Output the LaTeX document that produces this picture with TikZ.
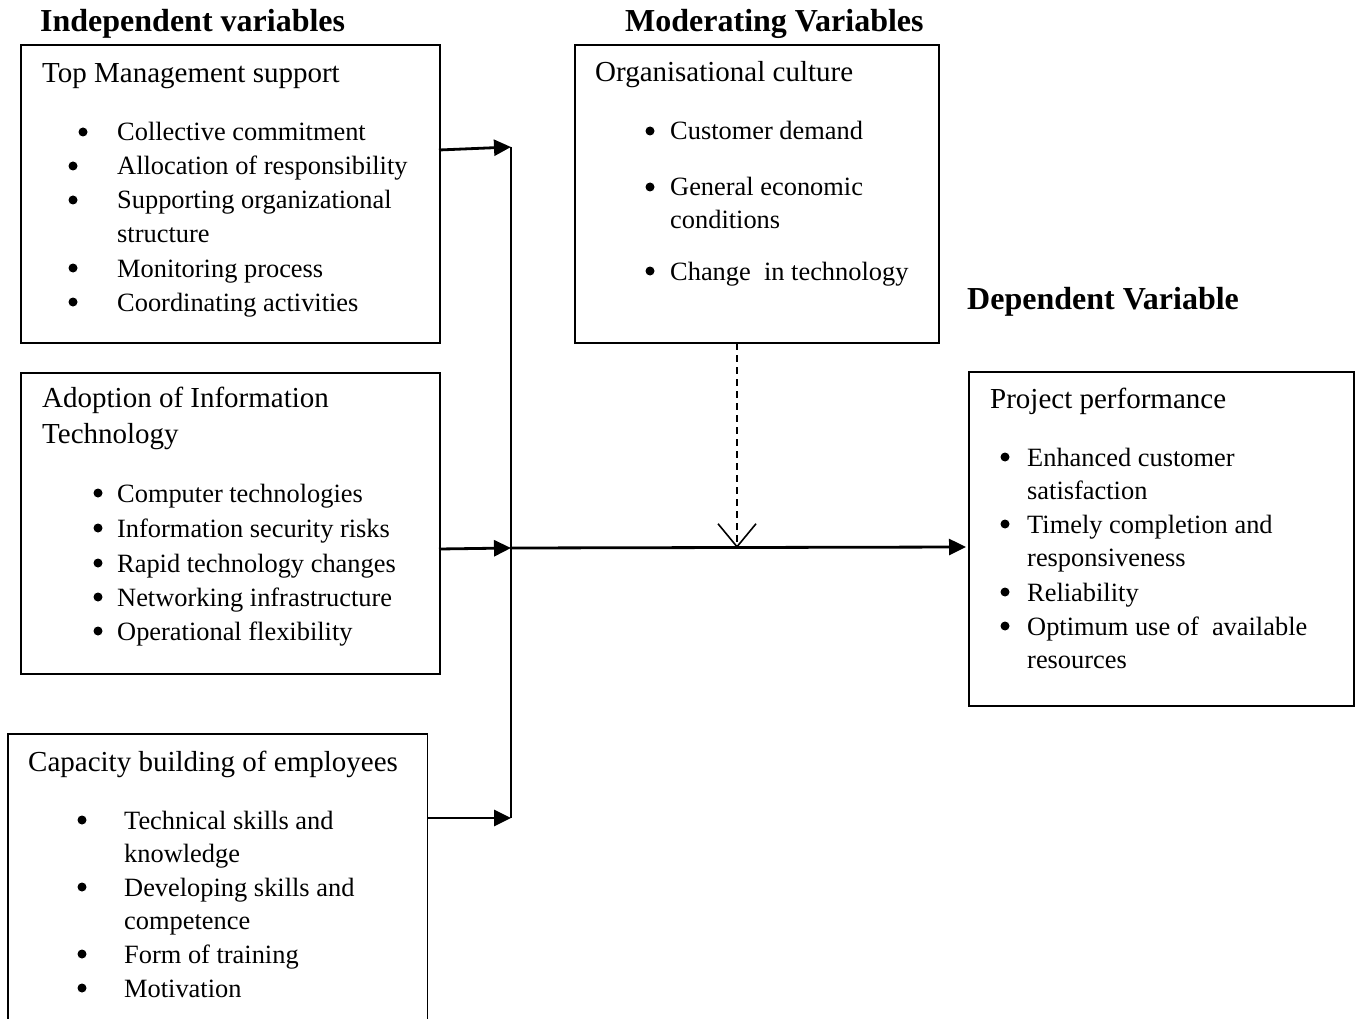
\documentclass[tikz,border=0pt]{standalone}
\usepackage{fontspec}
\setmainfont{Liberation Serif}
\usetikzlibrary{arrows.meta}
\begin{document}
\begin{tikzpicture}[x=1pt,y=-1pt,
  box/.style={draw, line width=1.8pt, inner sep=0pt, anchor=north west},
  head/.style={anchor=base west, inner sep=0pt, font=\fontsize{32}{38}\selectfont\bfseries},
  ttl/.style={anchor=base west, inner sep=0pt, font=\fontsize{29}{34}\selectfont},
  itm/.style={anchor=base west, inner sep=0pt, font=\fontsize{26.4}{34}\selectfont},
  bul/.style={circle, fill=black, inner sep=0pt, minimum size=9pt, yshift=9pt},
  link/.style={line width=2.8pt},
  conn/.style={line width=2.8pt, -{Triangle[length=17pt,width=16pt]}},
  modarrow/.style={line width=1.6pt, dash pattern=on 7pt off 5pt, -{Straight Barb[length=23pt,width=38pt]}}
]
\useasboundingbox (0,0) rectangle (1360,1019);

% headings
\node[head] (hind) at (40,32) {Independent variables};
\node[head] (hmod) at (625,32) {Moderating Variables};
\node[head] (hdep) at (967,309) {Dependent Variable};

% boxes
\node[box, minimum width=419pt, minimum height=298pt] (tms) at (20,44) {};
\node[box, minimum width=419pt, minimum height=301pt] (ait) at (20,372) {};
\node[anchor=north west, inner sep=0pt, minimum width=419pt, minimum height=292pt] (cbe) at (8,734) {};
\draw[line width=1.8pt] (cbe.south west) -- (cbe.north west) -- (cbe.north east) -- (cbe.south east);
\node[box, minimum width=364pt, minimum height=298pt] (org) at (574,44) {};
\node[box, minimum width=385pt, minimum height=334pt] (perf) at (968,371) {};

% box 1
\node[ttl] (t1) at (42,83) {Top Management support};
\node[bul] (b1a) at (83,141) {};
\node[itm] (i1a) at (117,141) {Collective commitment};
\node[bul] (b1b) at (73,175) {};
\node[itm] (i1b) at (117,175) {Allocation of responsibility};
\node[bul] (b1c) at (73,209) {};
\node[itm] (i1c) at (117,209) {Supporting organizational};
\node[itm] (i1c2) at (117,243) {structure};
\node[bul] (b1d) at (73,277) {};
\node[itm] (i1d) at (117,277) {Monitoring process};
\node[bul] (b1e) at (73,311) {};
\node[itm] (i1e) at (117,311) {Coordinating activities};

% box 2
\node[ttl] (t2) at (42,407) {Adoption of Information};
\node[ttl] (t2b) at (42,443) {Technology};
\node[bul] (b2a) at (98,502) {};
\node[itm] (i2a) at (117,502) {Computer technologies};
\node[bul] (b2b) at (98,537) {};
\node[itm] (i2b) at (117,537) {Information security risks};
\node[bul] (b2c) at (98,572) {};
\node[itm] (i2c) at (117,572) {Rapid technology changes};
\node[bul] (b2d) at (98,606) {};
\node[itm] (i2d) at (117,606) {Networking infrastructure};
\node[bul] (b2e) at (98,640) {};
\node[itm] (i2e) at (117,640) {Operational flexibility};

% box 3
\node[ttl] (t3) at (28,771) {Capacity building of employees};
\node[bul] (b3a) at (82,829) {};
\node[itm] (i3a) at (124,829) {Technical skills and};
\node[itm] (i3a2) at (124,862) {knowledge};
\node[bul] (b3b) at (82,896) {};
\node[itm] (i3b) at (124,896) {Developing skills and};
\node[itm] (i3b2) at (124,929) {competence};
\node[bul] (b3c) at (82,963) {};
\node[itm] (i3c) at (124,963) {Form of training};
\node[bul] (b3d) at (82,997) {};
\node[itm] (i3d) at (124,997) {Motivation};

% box 4
\node[ttl] (t4) at (595,82) {Organisational culture};
\node[bul] (b4a) at (650,140) {};
\node[itm] (i4a) at (670,140) {Customer demand};
\node[bul] (b4b) at (650,196) {};
\node[itm] (i4b) at (670,196) {General economic};
\node[itm] (i4b2) at (670,229) {conditions};
\node[bul] (b4c) at (650,280) {};
\node[itm] (i4c) at (670,280) {Change\ \ in technology};

% box 5
\node[ttl] (t5) at (990,408) {Project performance};
\node[bul] (b5a) at (1005,466) {};
\node[itm] (i5a) at (1027,466) {Enhanced customer};
\node[itm] (i5a2) at (1027,499) {satisfaction};
\node[bul] (b5b) at (1005,533) {};
\node[itm] (i5b) at (1027,533) {Timely completion and};
\node[itm] (i5b2) at (1027,566) {responsiveness};
\node[bul] (b5c) at (1005,601) {};
\node[itm] (i5c) at (1027,601) {Reliability};
\node[bul] (b5d) at (1005,635) {};
\node[itm] (i5d) at (1027,635) {Optimum use of\ \ available};
\node[itm] (i5d2) at (1027,668) {resources};

% connectors
\coordinate (s1) at (439,150);
\coordinate (s2) at (439,549);
\coordinate (s3) at (427,818);
\coordinate (j1) at (511,147);
\coordinate (j2) at (511,548);
\coordinate (j3) at (511,818);
\coordinate (pin) at (966,547);
\coordinate (ms) at (737,343);
\coordinate (mt) at (737,548);

\draw[link] (j1) -- (j3);
\draw[conn] (s1) -- (j1);
\draw[conn] (s2) -- (j2);
\draw[conn] (s3) -- (j3);
\draw[conn] (j2) -- (pin);
\draw[modarrow] (ms) -- (mt);
\end{tikzpicture}
\end{document}
